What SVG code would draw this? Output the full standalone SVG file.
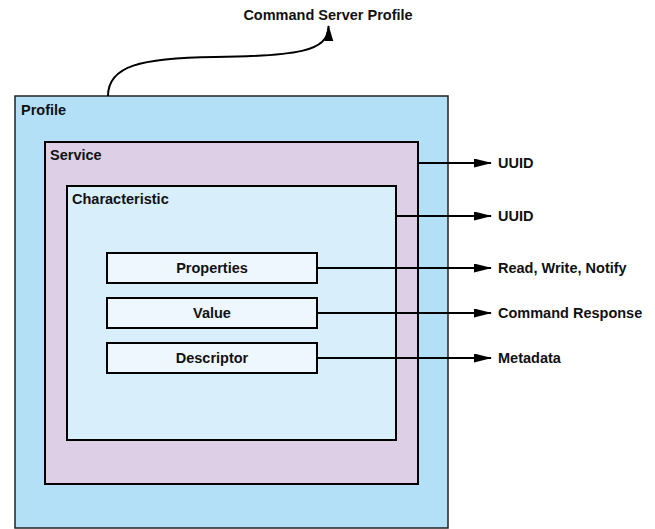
<svg xmlns="http://www.w3.org/2000/svg" width="655" height="529" viewBox="0 0 655 529">
<defs>
<marker id="ah" markerWidth="18" markerHeight="9" refX="17" refY="4.5" orient="auto" markerUnits="userSpaceOnUse"><path d="M0,0 L18,4.5 L0,9 Z" fill="#000"/></marker>
<marker id="ahu" markerWidth="16" markerHeight="10" refX="15" refY="5" orient="auto" markerUnits="userSpaceOnUse"><path d="M0,0.5 L16,5 L0,9.5 Z" fill="#000"/></marker>
</defs>
<style>
text{font-family:"Liberation Sans",Arial,sans-serif;font-weight:bold;font-size:14.5px;fill:#111}
.c{text-anchor:middle}
.box{stroke:#000;stroke-width:2}
.ln{stroke:#000;stroke-width:2;fill:none}
</style>
<rect width="655" height="529" fill="#fff"/>
<g id="profile"><rect x="15" y="96" width="433" height="432" fill="#b3e0f6" stroke="#222" stroke-width="1.5"/><text x="21" y="115">Profile</text></g>
<g id="service"><rect x="45" y="142" width="373" height="342" fill="#dccfe6" class="box"/><text x="50" y="160">Service</text></g>
<g id="characteristic"><rect x="67" y="186" width="329" height="254" fill="#d9eefb" class="box"/><text x="72" y="204">Characteristic</text></g>
<g id="properties"><rect x="107" y="253" width="210" height="30" fill="#eff7fe" class="box"/><text class="c" x="212" y="273">Properties</text></g>
<g id="value"><rect x="107" y="298" width="210" height="30" fill="#eff7fe" class="box"/><text class="c" x="212" y="318">Value</text></g>
<g id="descriptor"><rect x="107" y="343" width="210" height="30" fill="#eff7fe" class="box"/><text class="c" x="212" y="363">Descriptor</text></g>
<g id="connectors">
<path class="ln" d="M108,96 C108,66 140,58 215,57 C295,56 329,52 328.5,26" marker-end="url(#ahu)"/>
<line class="ln" x1="418" y1="163" x2="491" y2="163" marker-end="url(#ah)"/>
<line class="ln" x1="396" y1="216" x2="491" y2="216" marker-end="url(#ah)"/>
<line class="ln" x1="317" y1="268" x2="491" y2="268" marker-end="url(#ah)"/>
<line class="ln" x1="317" y1="313" x2="491" y2="313" marker-end="url(#ah)"/>
<line class="ln" x1="317" y1="358" x2="491" y2="358" marker-end="url(#ah)"/>
</g>
<g id="labels">
<text class="c" x="328" y="20">Command Server Profile</text>
<text x="498" y="168">UUID</text>
<text x="498" y="221">UUID</text>
<text x="498" y="273">Read, Write, Notify</text>
<text x="498" y="318">Command Response</text>
<text x="498" y="363">Metadata</text>
</g>
</svg>
